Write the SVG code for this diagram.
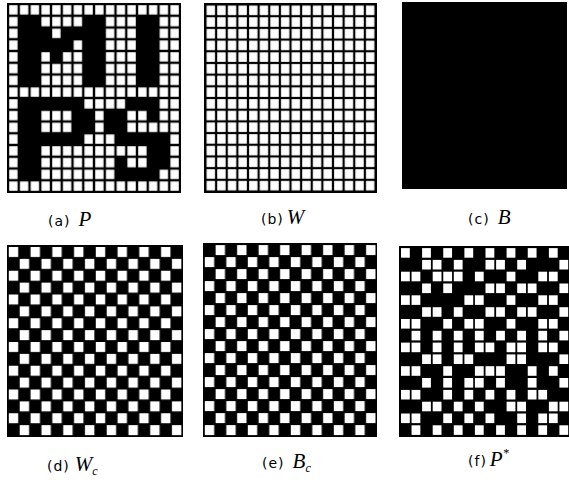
<svg xmlns="http://www.w3.org/2000/svg" width="569" height="484" viewBox="0 0 569 484">
<style>
.bk{fill:#000}
.w{fill:#fff}
.lab{font-family:"DejaVu Sans","Liberation Sans",sans-serif;font-size:14px;letter-spacing:1px;fill:#000}
.var{font-family:"Liberation Serif",serif;font-style:italic;font-size:21px;fill:#000}
.sub{font-family:"Liberation Serif",serif;font-style:italic;font-size:12px;fill:#000}
</style>
<defs>
<pattern id="ga" patternUnits="userSpaceOnUse" x="8" y="4" width="10.75" height="11.75"><rect class="w" x="1.2" y="1.2" width="8.35" height="9.35"/></pattern>
<pattern id="gb" patternUnits="userSpaceOnUse" x="205.5" y="4.5" width="10.625" height="11.6875"><rect class="w" x="1.1" y="1.1" width="8.4" height="9.5"/></pattern>
<pattern id="gd" patternUnits="userSpaceOnUse" x="8" y="246" width="21.75" height="23.75"><rect class="w" x="0.8" y="1" width="9.4" height="10"/><rect class="w" x="11.7" y="12.9" width="9.4" height="10"/></pattern>
<pattern id="ge" patternUnits="userSpaceOnUse" x="204" y="244" width="21.5" height="24"><rect class="w" x="11.6" y="1.1" width="9.4" height="10"/><rect class="w" x="0.8" y="13.1" width="9.4" height="10"/></pattern>
</defs>

<g id="panel-a">
<rect class="bk" x="7" y="3" width="174" height="190"/>
<rect x="8" y="4" width="172" height="188" fill="url(#ga)"/>
<rect class="bk" x="18.75" y="15.75" width="21.5" height="11.75"/>
<rect class="bk" x="83.25" y="15.75" width="21.5" height="11.75"/>
<rect class="bk" x="137" y="15.75" width="21.5" height="11.75"/>
<rect class="bk" x="18.75" y="27.5" width="32.25" height="11.75"/>
<rect class="bk" x="61.75" y="27.5" width="43" height="11.75"/>
<rect class="bk" x="137" y="27.5" width="21.5" height="11.75"/>
<rect class="bk" x="18.75" y="39.25" width="53.75" height="11.75"/>
<rect class="bk" x="83.25" y="39.25" width="21.5" height="11.75"/>
<rect class="bk" x="137" y="39.25" width="21.5" height="11.75"/>
<rect class="bk" x="18.75" y="51" width="21.5" height="11.75"/>
<rect class="bk" x="51" y="51" width="10.75" height="11.75"/>
<rect class="bk" x="83.25" y="51" width="21.5" height="11.75"/>
<rect class="bk" x="137" y="51" width="21.5" height="11.75"/>
<rect class="bk" x="18.75" y="62.75" width="21.5" height="23.5"/>
<rect class="bk" x="83.25" y="62.75" width="21.5" height="23.5"/>
<rect class="bk" x="137" y="62.75" width="21.5" height="23.5"/>
<rect class="bk" x="18.75" y="98" width="64.5" height="11.75"/>
<rect class="bk" x="126.25" y="98" width="32.25" height="11.75"/>
<rect class="bk" x="18.75" y="109.75" width="21.5" height="11.75"/>
<rect class="bk" x="72.5" y="109.75" width="21.5" height="11.75"/>
<rect class="bk" x="104.75" y="109.75" width="21.5" height="11.75"/>
<rect class="bk" x="147.75" y="109.75" width="10.75" height="11.75"/>
<rect class="bk" x="18.75" y="121.5" width="21.5" height="11.75"/>
<rect class="bk" x="72.5" y="121.5" width="21.5" height="11.75"/>
<rect class="bk" x="104.75" y="121.5" width="21.5" height="11.75"/>
<rect class="bk" x="18.75" y="133.25" width="64.5" height="11.75"/>
<rect class="bk" x="115.5" y="133.25" width="53.75" height="11.75"/>
<rect class="bk" x="18.75" y="145" width="21.5" height="11.75"/>
<rect class="bk" x="147.75" y="145" width="21.5" height="11.75"/>
<rect class="bk" x="18.75" y="156.75" width="21.5" height="11.75"/>
<rect class="bk" x="115.5" y="156.75" width="10.75" height="11.75"/>
<rect class="bk" x="147.75" y="156.75" width="21.5" height="11.75"/>
<rect class="bk" x="18.75" y="168.5" width="21.5" height="11.75"/>
<rect class="bk" x="115.5" y="168.5" width="43" height="11.75"/>
</g>

<g id="panel-b">
<rect class="bk" x="204" y="3" width="173" height="190"/>
<rect x="205.5" y="4.5" width="170" height="187" fill="url(#gb)"/>
</g>

<g id="panel-c">
<rect class="bk" x="402" y="2" width="165" height="187"/>
</g>

<g id="panel-d">
<rect class="bk" x="7" y="245" width="176" height="192"/>
<rect x="8" y="246" width="174" height="190" fill="url(#gd)"/>
</g>

<g id="panel-e">
<rect class="bk" x="203" y="243" width="174" height="194"/>
<rect x="204" y="244" width="172" height="192" fill="url(#ge)"/>
</g>

<g id="panel-f">
<rect class="bk" x="399" y="246" width="170" height="191"/>
<g class="w">
<rect x="401" y="248.1" width="8.8" height="9.6"/><rect x="422.1" y="248.1" width="8.8" height="9.6"/><rect x="443.25" y="248.1" width="8.8" height="9.6"/><rect x="464.4" y="248.1" width="8.8" height="9.6"/><rect x="485.5" y="248.1" width="8.8" height="9.6"/><rect x="506.6" y="248.1" width="8.8" height="9.6"/><rect x="527.75" y="248.1" width="8.8" height="9.6"/><rect x="548.9" y="248.1" width="8.8" height="9.6"/>
<rect x="422.1" y="259.9" width="8.8" height="9.6"/><rect x="432.7" y="259.9" width="8.8" height="9.6"/><rect x="453.8" y="259.9" width="8.8" height="9.6"/><rect x="485.5" y="259.9" width="8.8" height="9.6"/><rect x="496.1" y="259.9" width="8.8" height="9.6"/><rect x="517.2" y="259.9" width="8.8" height="9.6"/><rect x="559.4" y="259.9" width="8.8" height="9.6"/>
<rect x="401" y="271.7" width="8.8" height="9.6"/><rect x="411.55" y="271.7" width="8.8" height="9.6"/><rect x="432.7" y="271.7" width="8.8" height="9.6"/><rect x="443.25" y="271.7" width="8.8" height="9.6"/><rect x="453.8" y="271.7" width="8.8" height="9.6"/><rect x="474.9" y="271.7" width="8.8" height="9.6"/><rect x="506.6" y="271.7" width="8.8" height="9.6"/><rect x="538.3" y="271.7" width="8.8" height="9.6"/><rect x="548.9" y="271.7" width="8.8" height="9.6"/>
<rect x="422.1" y="283.5" width="8.8" height="9.6"/><rect x="443.25" y="283.5" width="8.8" height="9.6"/><rect x="485.5" y="283.5" width="8.8" height="9.6"/><rect x="496.1" y="283.5" width="8.8" height="9.6"/><rect x="517.2" y="283.5" width="8.8" height="9.6"/><rect x="527.75" y="283.5" width="8.8" height="9.6"/><rect x="559.4" y="283.5" width="8.8" height="9.6"/>
<rect x="401" y="295.3" width="8.8" height="9.6"/><rect x="411.55" y="295.3" width="8.8" height="9.6"/><rect x="464.4" y="295.3" width="8.8" height="9.6"/><rect x="474.9" y="295.3" width="8.8" height="9.6"/><rect x="506.6" y="295.3" width="8.8" height="9.6"/><rect x="538.3" y="295.3" width="8.8" height="9.6"/><rect x="548.9" y="295.3" width="8.8" height="9.6"/>
<rect x="422.1" y="307.2" width="8.8" height="9.6"/><rect x="432.7" y="307.2" width="8.8" height="9.6"/><rect x="453.8" y="307.2" width="8.8" height="9.6"/><rect x="485.5" y="307.2" width="8.8" height="9.6"/><rect x="496.1" y="307.2" width="8.8" height="9.6"/><rect x="517.2" y="307.2" width="8.8" height="9.6"/><rect x="527.75" y="307.2" width="8.8" height="9.6"/><rect x="559.4" y="307.2" width="8.8" height="9.6"/>
<rect x="401" y="319" width="8.8" height="9.6"/><rect x="411.55" y="319" width="8.8" height="9.6"/><rect x="443.25" y="319" width="8.8" height="9.6"/><rect x="464.4" y="319" width="8.8" height="9.6"/><rect x="474.9" y="319" width="8.8" height="9.6"/><rect x="506.6" y="319" width="8.8" height="9.6"/><rect x="538.3" y="319" width="8.8" height="9.6"/><rect x="548.9" y="319" width="8.8" height="9.6"/>
<rect x="411.55" y="330.8" width="8.8" height="9.6"/><rect x="432.7" y="330.8" width="8.8" height="9.6"/><rect x="453.8" y="330.8" width="8.8" height="9.6"/><rect x="474.9" y="330.8" width="8.8" height="9.6"/><rect x="496.1" y="330.8" width="8.8" height="9.6"/><rect x="517.2" y="330.8" width="8.8" height="9.6"/><rect x="538.3" y="330.8" width="8.8" height="9.6"/><rect x="559.4" y="330.8" width="8.8" height="9.6"/>
<rect x="401" y="342.6" width="8.8" height="9.6"/><rect x="411.55" y="342.6" width="8.8" height="9.6"/><rect x="432.7" y="342.6" width="8.8" height="9.6"/><rect x="453.8" y="342.6" width="8.8" height="9.6"/><rect x="474.9" y="342.6" width="8.8" height="9.6"/><rect x="485.5" y="342.6" width="8.8" height="9.6"/><rect x="506.6" y="342.6" width="8.8" height="9.6"/><rect x="517.2" y="342.6" width="8.8" height="9.6"/><rect x="538.3" y="342.6" width="8.8" height="9.6"/><rect x="548.9" y="342.6" width="8.8" height="9.6"/>
<rect x="422.1" y="354.4" width="8.8" height="9.6"/><rect x="432.7" y="354.4" width="8.8" height="9.6"/><rect x="453.8" y="354.4" width="8.8" height="9.6"/><rect x="464.4" y="354.4" width="8.8" height="9.6"/><rect x="506.6" y="354.4" width="8.8" height="9.6"/><rect x="517.2" y="354.4" width="8.8" height="9.6"/><rect x="559.4" y="354.4" width="8.8" height="9.6"/>
<rect x="401" y="366.2" width="8.8" height="9.6"/><rect x="411.55" y="366.2" width="8.8" height="9.6"/><rect x="443.25" y="366.2" width="8.8" height="9.6"/><rect x="474.9" y="366.2" width="8.8" height="9.6"/><rect x="485.5" y="366.2" width="8.8" height="9.6"/><rect x="496.1" y="366.2" width="8.8" height="9.6"/><rect x="527.75" y="366.2" width="8.8" height="9.6"/><rect x="548.9" y="366.2" width="8.8" height="9.6"/>
<rect x="422.1" y="378" width="8.8" height="9.6"/><rect x="443.25" y="378" width="8.8" height="9.6"/><rect x="464.4" y="378" width="8.8" height="9.6"/><rect x="474.9" y="378" width="8.8" height="9.6"/><rect x="496.1" y="378" width="8.8" height="9.6"/><rect x="527.75" y="378" width="8.8" height="9.6"/><rect x="559.4" y="378" width="8.8" height="9.6"/>
<rect x="401" y="389.9" width="8.8" height="9.6"/><rect x="411.55" y="389.9" width="8.8" height="9.6"/><rect x="443.25" y="389.9" width="8.8" height="9.6"/><rect x="464.4" y="389.9" width="8.8" height="9.6"/><rect x="485.5" y="389.9" width="8.8" height="9.6"/><rect x="506.6" y="389.9" width="8.8" height="9.6"/><rect x="527.75" y="389.9" width="8.8" height="9.6"/><rect x="538.3" y="389.9" width="8.8" height="9.6"/>
<rect x="422.1" y="401.7" width="8.8" height="9.6"/><rect x="432.7" y="401.7" width="8.8" height="9.6"/><rect x="453.8" y="401.7" width="8.8" height="9.6"/><rect x="474.9" y="401.7" width="8.8" height="9.6"/><rect x="506.6" y="401.7" width="8.8" height="9.6"/><rect x="517.2" y="401.7" width="8.8" height="9.6"/><rect x="548.9" y="401.7" width="8.8" height="9.6"/><rect x="559.4" y="401.7" width="8.8" height="9.6"/>
<rect x="401" y="413.5" width="8.8" height="9.6"/><rect x="411.55" y="413.5" width="8.8" height="9.6"/><rect x="443.25" y="413.5" width="8.8" height="9.6"/><rect x="464.4" y="413.5" width="8.8" height="9.6"/><rect x="485.5" y="413.5" width="8.8" height="9.6"/><rect x="517.2" y="413.5" width="8.8" height="9.6"/><rect x="538.3" y="413.5" width="8.8" height="9.6"/><rect x="548.9" y="413.5" width="8.8" height="9.6"/>
<rect x="411.55" y="425.3" width="8.8" height="9.6"/><rect x="432.7" y="425.3" width="8.8" height="9.6"/><rect x="453.8" y="425.3" width="8.8" height="9.6"/><rect x="474.9" y="425.3" width="8.8" height="9.6"/><rect x="496.1" y="425.3" width="8.8" height="9.6"/><rect x="517.2" y="425.3" width="8.8" height="9.6"/><rect x="538.3" y="425.3" width="8.8" height="9.6"/><rect x="559.4" y="425.3" width="8.8" height="9.6"/>
</g>
</g>

<g id="labels">
<text x="48" y="226"><tspan class="lab">(a)</tspan><tspan class="var" dx="8">P</tspan></text>
<text x="261" y="224"><tspan class="lab">(b)</tspan><tspan class="var" dx="3">W</tspan></text>
<text x="468" y="224"><tspan class="lab">(c)</tspan><tspan class="var" dx="8">B</tspan></text>
<text x="47" y="471"><tspan class="lab">(d)</tspan><tspan class="var" dx="5">W</tspan><tspan class="sub" dy="4">c</tspan></text>
<text x="262" y="468"><tspan class="lab">(e)</tspan><tspan class="var" dx="8">B</tspan><tspan class="sub" dy="4">c</tspan></text>
<text x="468" y="466"><tspan class="lab">(f)</tspan><tspan class="var" dx="3">P</tspan><tspan class="sub" dy="-9">*</tspan></text>
</g>
</svg>
